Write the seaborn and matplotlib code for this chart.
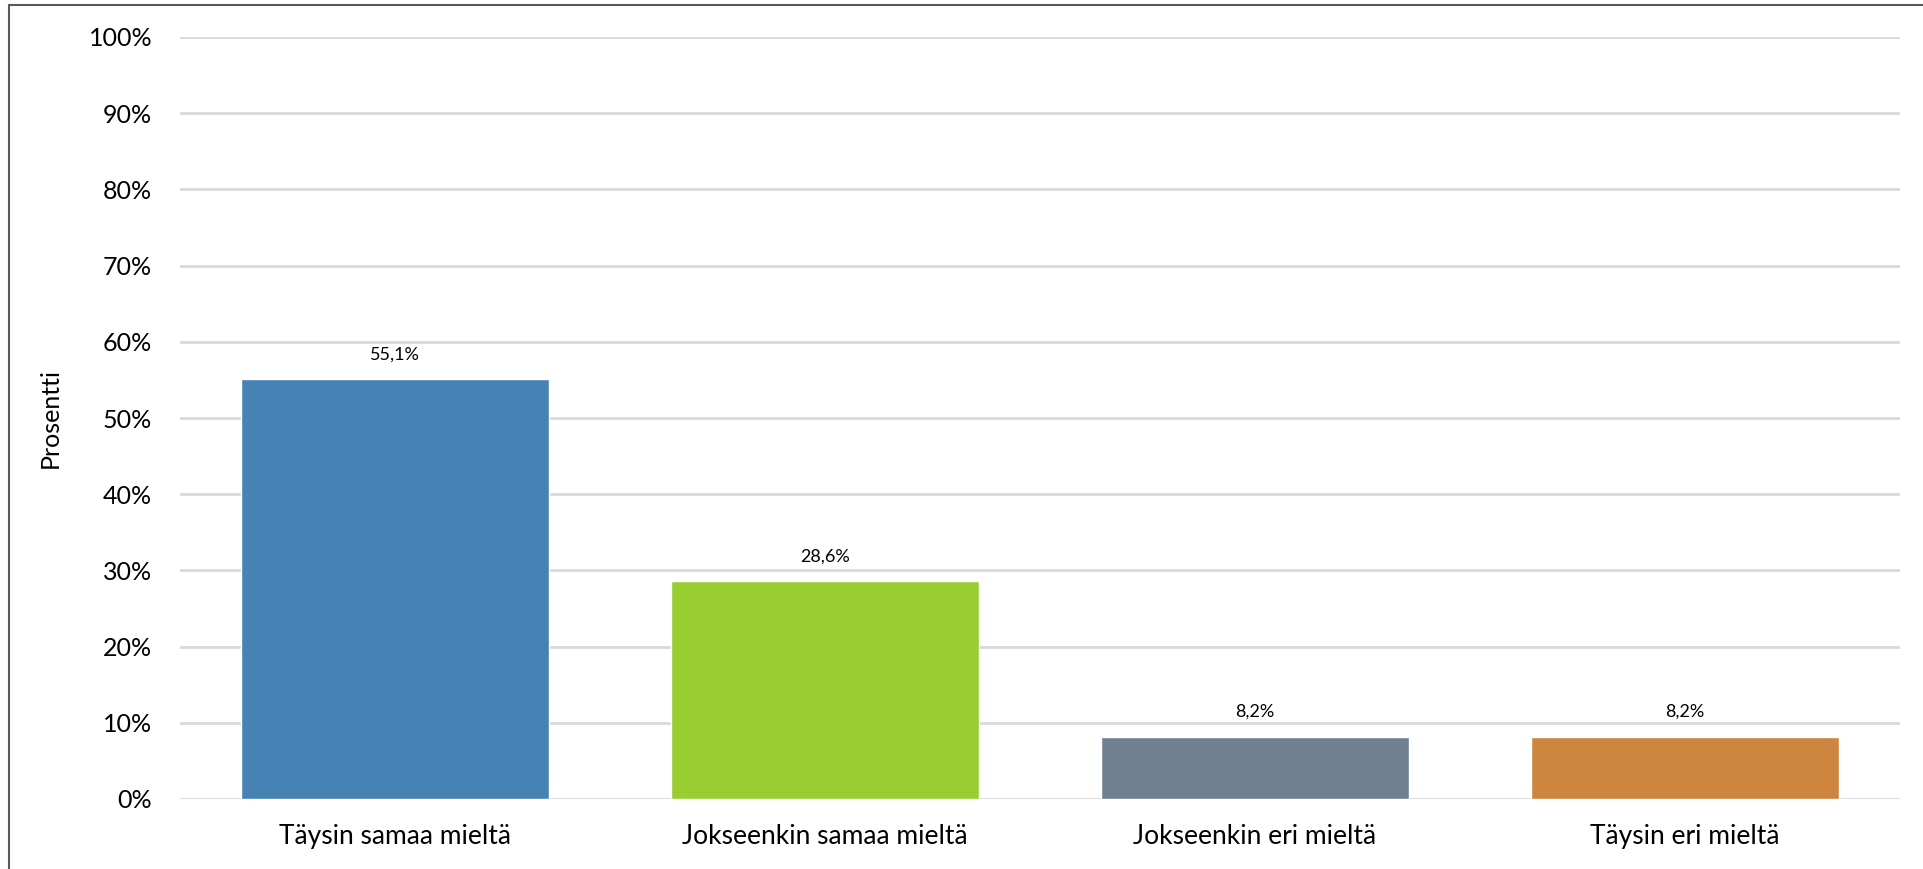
import pandas as pd
import matplotlib.pyplot as plt
import seaborn as sns
from matplotlib.patches import Rectangle
from matplotlib.ticker import FuncFormatter

# data
kategoriat = ['Täysin samaa mieltä', 'Jokseenkin samaa mieltä', 'Jokseenkin eri mieltä', 'Täysin eri mieltä']
prosentit = [55.1, 28.6, 8.2, 8.2]
varit = ['#4682B4', '#9ACD32', '#708090', '#CD853F']

df = pd.DataFrame({'Vastaus': kategoriat, 'Prosentti': prosentit})

sns.set_theme(style="white")
plt.rcParams['font.family'] = ['Lato', 'DejaVu Sans']

fig = plt.figure(figsize=(19.24, 8.69), dpi=100)
ax = fig.add_axes([180 / 1924, 1 - 799 / 869, 1720 / 1924, 762 / 869])

sns.barplot(data=df, x='Vastaus', y='Prosentti', hue='Vastaus', palette=varit,
            width=0.716, saturation=1, legend=False, ax=ax, zorder=3)

ax.set_ylim(0, 100)
ax.set_yticks(range(0, 101, 10))
ax.yaxis.set_major_formatter(FuncFormatter(lambda v, p: f'{int(v)}%'))
ax.grid(axis='y', color='#D9D9D9', linewidth=2, zorder=0)
ax.set_axisbelow(True)
for s in ax.spines.values():
    s.set_visible(False)
ax.tick_params(axis='y', length=0, pad=20, labelsize=18, labelcolor='black')
ax.tick_params(axis='x', length=0, pad=18, labelsize=19, labelcolor='black')
ax.set_xlabel('')
ax.set_ylabel('Prosentti', fontsize=18, color='black')
ax.yaxis.set_label_coords(-118 / 1720, 0.5)

# arvot palkkien päälle
for i, v in enumerate(prosentit):
    ax.annotate(f'{v:.1f}%'.replace('.', ','), (i, v), textcoords='offset points',
                xytext=(0, 12), ha='center', va='bottom', fontsize=13, color='black')

# kehys
fig.patches.append(Rectangle((9 / 1924, -0.1), 1.2, 1 - 5 / 869 + 0.1, transform=fig.transFigure,
                             fill=False, edgecolor='#595959', linewidth=1.5))

plt.savefig('out.png', dpi=100)
